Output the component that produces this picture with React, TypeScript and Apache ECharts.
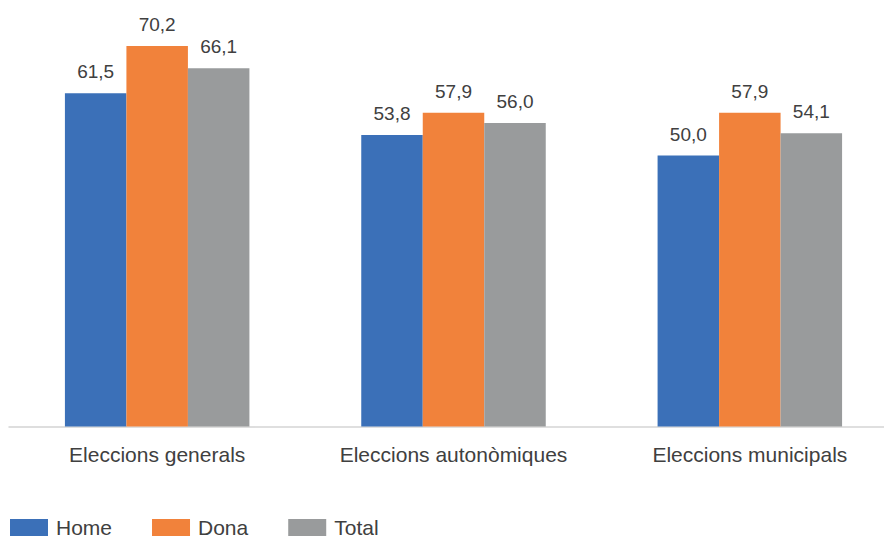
import React, { useEffect, useRef } from "react";
import * as echarts from "echarts";

const categories = ["Eleccions generals", "Eleccions autonòmiques", "Eleccions municipals"];
const seriesNames = ["Home", "Dona", "Total"];
const homeValues = [61.5, 53.8, 50.0];
const donaValues = [70.2, 57.9, 57.9];
const totalValues = [66.1, 56.0, 54.1];
const colors = ["#3b70b8", "#f1823b", "#999b9c"];

export default function App() {
  const ref = useRef<HTMLDivElement>(null);
  useEffect(() => {
    if (!ref.current) return;
    const chart = echarts.init(ref.current, null, { renderer: "svg" });
    const values = [homeValues, donaValues, totalValues];
    const font = "'Liberation Sans', Arial, Helvetica, sans-serif";
    chart.setOption({
      animation: false,
      textStyle: { fontFamily: font },
      grid: { left: 9, right: 0, top: 20, bottom: 111.5, containLabel: false },
      legend: {
        left: 5,
        top: 512,
        itemWidth: 38,
        itemHeight: 17,
        itemGap: 40,
        icon: "rect",
        textStyle: { fontSize: 21, color: "#404040", fontFamily: font, padding: [0, 0, 0, 3] },
        data: seriesNames,
      },
      xAxis: {
        type: "category",
        data: categories,
        axisLine: { show: true, lineStyle: { color: "#d4d4d4", width: 1.5 } },
        axisTick: { show: false },
        axisLabel: { fontSize: 21, color: "#404040", margin: 17, fontFamily: font, interval: 0 },
      },
      yAxis: {
        type: "value",
        min: 0,
        max: 75,
        show: false,
        splitLine: { show: false },
      },
      series: seriesNames.map((name, i) => ({
        name,
        type: "bar",
        data: values[i],
        barWidth: 61.5,
        barGap: "0%",
        itemStyle: { color: colors[i] },
        label: {
          show: true,
          position: "top",
          distance: 12,
          fontSize: 19,
          color: "#404040",
          fontFamily: font,
          formatter: (p: any) => Number(p.value).toFixed(1).replace(".", ","),
        },
      })),
    });
    return () => chart.dispose();
  }, []);
  return (
    <div
      ref={ref}
      style={{ position: "fixed", left: 0, top: 0, width: 898, height: 538, background: "#fff" }}
    />
  );
}
